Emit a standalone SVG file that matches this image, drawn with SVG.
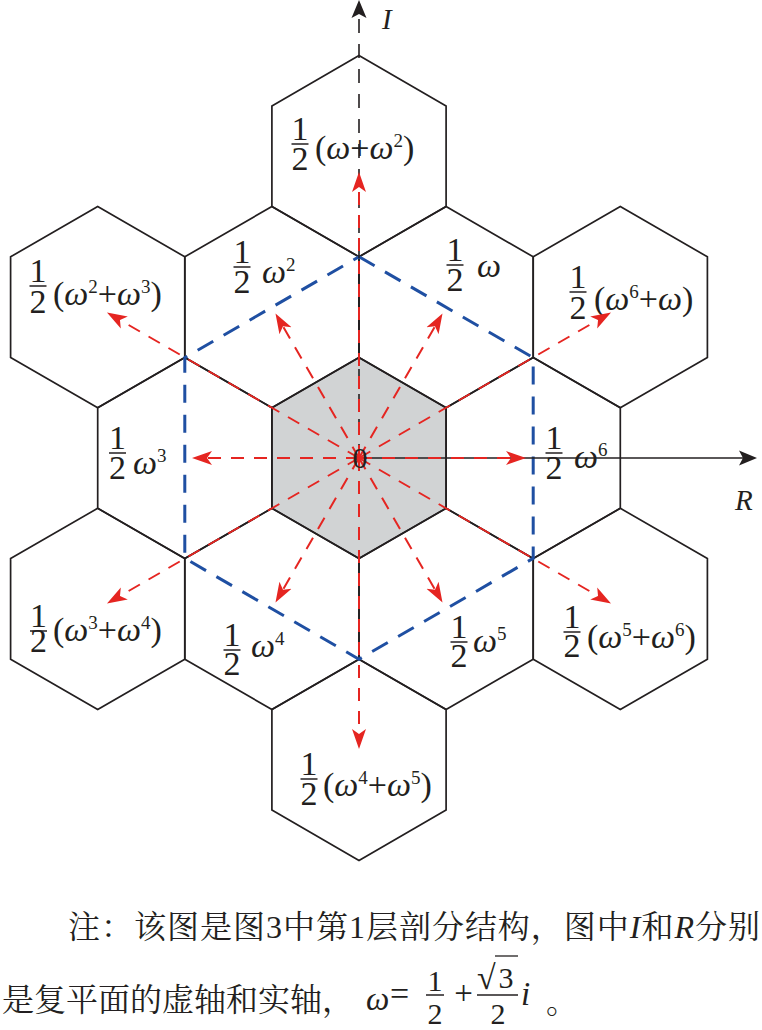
<svg xmlns="http://www.w3.org/2000/svg" width="762" height="1030" viewBox="0 0 762 1030">
<style>
.hx{fill:none;stroke:#231f20;stroke-width:1.7}
.cen{fill:#d1d3d4;stroke:#231f20;stroke-width:1.7}
.bl{fill:none;stroke:#1f4fa2;stroke-width:3;stroke-dasharray:18 12}
.rd{fill:none;stroke:#e52521;stroke-width:2;stroke-dasharray:13 10;marker-end:url(#ra)}
.axd{fill:none;stroke:#231f20;stroke-width:1.6;stroke-dasharray:14 11;marker-end:url(#ka)}
.axs{fill:none;stroke:#231f20;stroke-width:1.7;marker-end:url(#ka)}
.t{font-family:"Liberation Serif","Times New Roman",serif;font-size:34px;fill:#231f20}
.w{font-style:italic}
.s{font-size:19px}
.fb{stroke:#231f20;stroke-width:1.5}
.cap{font-family:"Liberation Serif","Noto Serif CJK SC","Noto Sans CJK SC",serif;font-size:32px;fill:#231f20}
</style>
<defs>
<polygon id="hex" points="0,-100.6 87.1,-50.3 87.1,50.3 0,100.6 -87.1,50.3 -87.1,-50.3"/>
<marker id="ra" markerUnits="userSpaceOnUse" viewBox="0 -8 21 16" markerWidth="21" markerHeight="16" refX="6" refY="0" orient="auto">
<path d="M20,0 L0,-7 L5,0 L0,7 Z" fill="#e52521"/>
</marker>
<marker id="ka" markerUnits="userSpaceOnUse" viewBox="0 -8 19 16" markerWidth="19" markerHeight="16" refX="5" refY="0" orient="auto">
<path d="M18,0 L0,-7.5 L4,0 L0,7.5 Z" fill="#231f20"/>
</marker>
</defs>

<g id="node-0">
<use href="#hex" x="359" y="458" class="cen"/>
</g>
<g id="node-w6">
<use href="#hex" x="533.2" y="458" class="hx"/>
<text class="t" text-anchor="middle"><tspan x="554" y="449">1</tspan><tspan x="554" y="479">2</tspan></text><line class="fb" x1="545.5" y1="453" x2="562.5" y2="453"/>
<text class="t" x="574" y="468"><tspan class="w">ω</tspan><tspan class="s" dy="-12">6</tspan></text>
</g>
<g id="node-w1">
<use href="#hex" x="446.1" y="307.1" class="hx"/>
<text class="t" text-anchor="middle"><tspan x="455" y="261">1</tspan><tspan x="455" y="291">2</tspan></text><line class="fb" x1="446.5" y1="265" x2="463.5" y2="265"/>
<text class="t" x="477" y="277"><tspan class="w">ω</tspan></text>
</g>
<g id="node-w2">
<use href="#hex" x="271.9" y="307.1" class="hx"/>
<text class="t" text-anchor="middle"><tspan x="242" y="263">1</tspan><tspan x="242" y="293">2</tspan></text><line class="fb" x1="233.5" y1="267" x2="250.5" y2="267"/>
<text class="t" x="262" y="283"><tspan class="w">ω</tspan><tspan class="s" dy="-12">2</tspan></text>
</g>
<g id="node-w3">
<use href="#hex" x="184.8" y="458" class="hx"/>
<text class="t" text-anchor="middle"><tspan x="117.5" y="449">1</tspan><tspan x="117.5" y="479">2</tspan></text><line class="fb" x1="109" y1="453" x2="126" y2="453"/>
<text class="t" x="133" y="474"><tspan class="w">ω</tspan><tspan class="s" dy="-12">3</tspan></text>
</g>
<g id="node-w4">
<use href="#hex" x="271.9" y="608.9" class="hx"/>
<text class="t" text-anchor="middle"><tspan x="232" y="646">1</tspan><tspan x="232" y="675">2</tspan></text><line class="fb" x1="223.5" y1="650" x2="240.5" y2="650"/>
<text class="t" x="251" y="657"><tspan class="w">ω</tspan><tspan class="s" dy="-12">4</tspan></text>
</g>
<g id="node-w5">
<use href="#hex" x="446.1" y="608.9" class="hx"/>
<text class="t" text-anchor="middle"><tspan x="459" y="638">1</tspan><tspan x="459" y="667">2</tspan></text><line class="fb" x1="450.5" y1="642" x2="467.5" y2="642"/>
<text class="t" x="473" y="652"><tspan class="w">ω</tspan><tspan class="s" dy="-12">5</tspan></text>
</g>
<g id="node-w1w2">
<use href="#hex" x="359" y="156.2" class="hx"/>
<text class="t" text-anchor="middle"><tspan x="300" y="140">1</tspan><tspan x="300" y="170">2</tspan></text><line class="fb" x1="291.5" y1="144" x2="308.5" y2="144"/>
<text class="t" x="315" y="159">(<tspan class="w">ω</tspan>+<tspan class="w">ω</tspan><tspan class="s" dy="-12">2</tspan><tspan dy="12">)</tspan></text>
</g>
<g id="node-w2w3">
<use href="#hex" x="97.7" y="307.1" class="hx"/>
<text class="t" text-anchor="middle"><tspan x="38" y="282">1</tspan><tspan x="38" y="313">2</tspan></text><line class="fb" x1="29.5" y1="286" x2="46.5" y2="286"/>
<text class="t" x="53" y="305">(<tspan class="w">ω</tspan><tspan class="s" dy="-12">2</tspan><tspan dy="12">+</tspan><tspan class="w">ω</tspan><tspan class="s" dy="-12">3</tspan><tspan dy="12">)</tspan></text>
</g>
<g id="node-w3w4">
<use href="#hex" x="97.7" y="608.9" class="hx"/>
<text class="t" text-anchor="middle"><tspan x="38.5" y="627">1</tspan><tspan x="38.5" y="652">2</tspan></text><line class="fb" x1="30" y1="631" x2="47" y2="631"/>
<text class="t" x="53" y="641">(<tspan class="w">ω</tspan><tspan class="s" dy="-12">3</tspan><tspan dy="12">+</tspan><tspan class="w">ω</tspan><tspan class="s" dy="-12">4</tspan><tspan dy="12">)</tspan></text>
</g>
<g id="node-w4w5">
<use href="#hex" x="359" y="759.8" class="hx"/>
<text class="t" text-anchor="middle"><tspan x="309" y="775">1</tspan><tspan x="309" y="805">2</tspan></text><line class="fb" x1="300.5" y1="779" x2="317.5" y2="779"/>
<text class="t" x="323" y="796">(<tspan class="w">ω</tspan><tspan class="s" dy="-12">4</tspan><tspan dy="12">+</tspan><tspan class="w">ω</tspan><tspan class="s" dy="-12">5</tspan><tspan dy="12">)</tspan></text>
</g>
<g id="node-w5w6">
<use href="#hex" x="620.3" y="608.9" class="hx"/>
<text class="t" text-anchor="middle"><tspan x="572" y="628">1</tspan><tspan x="572" y="657">2</tspan></text><line class="fb" x1="563.5" y1="632" x2="580.5" y2="632"/>
<text class="t" x="587" y="648">(<tspan class="w">ω</tspan><tspan class="s" dy="-12">5</tspan><tspan dy="12">+</tspan><tspan class="w">ω</tspan><tspan class="s" dy="-12">6</tspan><tspan dy="12">)</tspan></text>
</g>
<g id="node-w6w1">
<use href="#hex" x="620.3" y="307.1" class="hx"/>
<text class="t" text-anchor="middle"><tspan x="578" y="288">1</tspan><tspan x="578" y="319">2</tspan></text><line class="fb" x1="569.5" y1="292" x2="586.5" y2="292"/>
<text class="t" x="594" y="310">(<tspan class="w">ω</tspan><tspan class="s" dy="-12">6</tspan><tspan dy="12">+</tspan><tspan class="w">ω</tspan>)</text>
</g>

<g id="connectors">
<polygon class="bl" points="359,256.8 533.2,357.7 533.2,558.3 359,659.2 184.8,558.3 184.8,357.7"/>
<path class="axd" d="M359,458 V13"/>
<path class="axs" d="M359,458 H744"/>
<path class="rd" d="M359,458 L512,458"/>
<path class="rd" d="M359,458 L435.5,325.5"/>
<path class="rd" d="M359,458 L282.5,325.5"/>
<path class="rd" d="M359,458 L206,458"/>
<path class="rd" d="M359,458 L282.5,590.5"/>
<path class="rd" d="M359,458 L435.5,590.5"/>
<path class="rd" d="M359,458 L598.9,319.5"/>
<path class="rd" d="M359,458 L359,186"/>
<path class="rd" d="M359,458 L119.1,319.5"/>
<path class="rd" d="M359,458 L119.1,596.5"/>
<path class="rd" d="M359,458 L359,735"/>
<path class="rd" d="M359,458 L598.9,596.5"/>
</g>

<g id="axis-labels">
<text class="t w" x="382" y="29" style="font-size:29px">I</text>
<text class="t w" x="735" y="510" style="font-size:29px">R</text>
<text id="label-0" class="t" x="360" y="468" text-anchor="middle" style="font-size:30px">0</text>
</g>

<g id="caption">
<text class="cap" x="68" y="938" textLength="692" lengthAdjust="spacing">注：该图是图3中第1层剖分结构，图中<tspan font-style="italic">I</tspan>和<tspan font-style="italic">R</tspan>分别</text>
<text class="cap" x="2" y="1011">是复平面的虚轴和实轴，</text>
<text class="t w" x="366" y="1010" style="font-size:33px">ω</text>
<text class="t" x="390" y="1005" style="font-size:34px">=</text>
<text class="t" text-anchor="middle" style="font-size:30px"><tspan x="435" y="991">1</tspan><tspan x="435" y="1024">2</tspan></text>
<line class="fb" x1="426" y1="995" x2="444" y2="995"/>
<text class="t" x="463.5" y="1004" text-anchor="middle" style="font-size:33px">+</text>
<text class="t" x="477" y="989" style="font-size:34px">√</text>
<line class="fb" x1="495" y1="956" x2="518" y2="956" style="stroke-width:1.3"/>
<text class="t" text-anchor="middle" style="font-size:30px"><tspan x="506" y="988">3</tspan><tspan x="498" y="1024">2</tspan></text>
<line class="fb" x1="477" y1="995" x2="518" y2="995"/>
<text class="t w" x="521" y="1005" style="font-size:33px">i</text>
<text class="cap" x="546" y="1013">。</text>
</g>
</svg>
